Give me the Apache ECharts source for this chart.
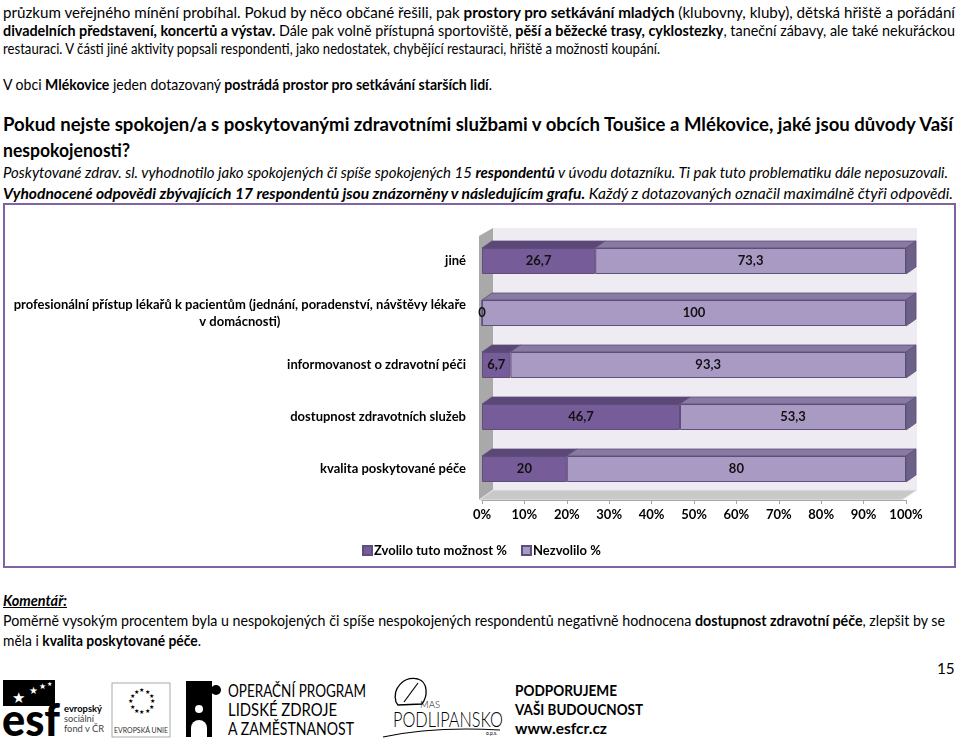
<!DOCTYPE html>
<html>
<head>
<meta charset="utf-8">
<script src="https://cdn.jsdelivr.net/npm/echarts@6/dist/echarts.min.js"></script>
<style>
  body { margin: 0; width: 960px; height: 738px; position: relative; background: #fff; overflow: hidden;
         font-family: Lato, "Noto Sans", sans-serif; color: #000; }
  .t { position: absolute; left: 3px; white-space: nowrap; font-size: 15.3px; line-height: 18px; height: 18px;
       transform-origin: 0 0; }
  .h { font-size: 18px; font-weight: bold; line-height: 22px; height: 22px; }
  .i { font-style: italic; }
  #box { position: absolute; left: 3px; top: 203px; width: 949px; height: 361px; border: 2px solid #8064A2; }
  #chart { width: 949px; height: 361px; }
  #logos { position: absolute; left: 0; top: 672px; }
</style>
</head>
<body>
<div class="t" data-w="952" style="top:3px">průzkum veřejného mínění probíhal. Pokud by něco občané řešili, pak <b>prostory pro setkávání mladých</b> (klubovny, kluby), dětská hřiště a pořádání</div>
<div class="t" data-w="952" style="top:21px"><b>divadelních představení, koncertů a výstav.</b> Dále pak volně přístupná sportoviště, <b>pěší a běžecké trasy, cyklostezky</b>, taneční zábavy, ale také nekuřáckou</div>
<div class="t" data-w="657" style="top:39px">restauraci. V části jiné aktivity popsali respondenti, jako nedostatek, chybějící restauraci, hřiště a možnosti koupání.</div>
<div class="t" data-w="489" style="top:75px">V obci <b>Mlékovice</b> jeden dotazovaný <b>postrádá prostor pro setkávání starších lidí</b>.</div>
<div class="t h" data-w="950" style="top:113px">Pokud nejste spokojen/a s poskytovanými zdravotními službami v obcích Toušice a Mlékovice, jaké jsou důvody Vaší</div>
<div class="t h" data-w="127" style="top:139px">nespokojenosti?</div>
<div class="t i" data-w="945" style="top:163px">Poskytované zdrav. sl. vyhodnotilo jako spokojených či spíše spokojených 15 <b>respondentů</b> v úvodu dotazníku. Ti pak tuto problematiku dále neposuzovali.</div>
<div class="t i" data-w="950" style="top:184px"><b>Vyhodnocené odpovědi zbývajících 17 respondentů jsou znázorněny v následujícím grafu.</b> Každý z dotazovaných označil maximálně čtyři odpovědi.</div>

<div id="box"><div id="chart"></div></div>

<div class="t i" data-w="64" style="top:591px"><b><u>Komentář:</u></b></div>
<div class="t" data-w="942" style="top:611px">Poměrně vysokým procentem byla u nespokojených či spíše nespokojených respondentů negativně hodnocena <b>dostupnost zdravotní péče</b>, zlepšit by se</div>
<div class="t" data-w="198" style="top:631px">měla i <b>kvalita poskytované péče</b>.</div>
<div class="t" style="top:659px;left:937px">15</div>

<svg id="logos" width="700" height="66" xmlns="http://www.w3.org/2000/svg" font-family="Lato, sans-serif">
  <!-- esf -->
  <rect x="3" y="8" width="52" height="26" fill="#000"/>
  <text x="12" y="31" fill="#fff" font-size="15">★</text>
  <text x="29" y="22" fill="#fff" font-size="10">★</text>
  <text x="39" y="17" fill="#fff" font-size="8">★</text>
  <text x="47" y="14" fill="#fff" font-size="6">★</text>
  <text x="2" y="64" font-size="46" font-weight="900" textLength="58" lengthAdjust="spacingAndGlyphs">esf</text>
  <text x="64" y="40" font-size="9" font-weight="bold" textLength="38" lengthAdjust="spacingAndGlyphs">evropský</text>
  <text x="64" y="50" font-size="9" fill="#444" textLength="30" lengthAdjust="spacingAndGlyphs">sociální</text>
  <text x="64" y="60" font-size="9" fill="#444" textLength="40" lengthAdjust="spacingAndGlyphs">fond v ČR</text>
  <!-- EU -->
  <rect x="112" y="11" width="58" height="54" fill="none" stroke="#aaa"/>
  <g id="euStars" fill="#000" font-size="6"></g>
  <text x="114" y="61" font-size="8" fill="#333" textLength="54" lengthAdjust="spacingAndGlyphs">EVROPSKÁ UNIE</text>
  <!-- puzzle -->
  <rect x="186" y="9" width="26" height="56" fill="#000"/>
  <circle cx="216" cy="18" r="5" fill="#000"/>
  <rect x="210" y="15" width="4" height="6" fill="#000"/>
  <circle cx="199" cy="56" r="8" fill="#fff"/>
  <rect x="191" y="56" width="16" height="10" fill="#fff"/>
  <circle cx="199" cy="37" r="4" fill="#fff"/>
  <text x="228" y="25" font-size="16.5" textLength="138" lengthAdjust="spacingAndGlyphs">OPERAČNÍ PROGRAM</text>
  <text x="228" y="44" font-size="16.5" textLength="109" lengthAdjust="spacingAndGlyphs">LIDSKÉ ZDROJE</text>
  <text x="228" y="63" font-size="16.5" textLength="126" lengthAdjust="spacingAndGlyphs">A ZAMĚSTNANOST</text>
  <!-- MAS -->
  <path d="M396 30 C392 16 404 4 418 7 C428 10 428 24 422 32 L398 33 Z" fill="none" stroke="#000" stroke-width="1.3"/>
  <path d="M404 30 L418 11" stroke="#000" stroke-width="1.2"/>
  <text x="420" y="36" font-size="10" font-weight="300" textLength="20" lengthAdjust="spacingAndGlyphs">MAS</text>
  <text x="393" y="55" font-size="21" font-weight="300" textLength="110" lengthAdjust="spacingAndGlyphs">PODLIPANSKO</text>
  <path d="M383 65 C420 57 465 56 500 58" fill="none" stroke="#000" stroke-width="1.2"/>
  <text x="486" y="63" font-size="5">o.p.s.</text>
  <text x="515" y="24" font-size="15.5" font-weight="bold" textLength="102" lengthAdjust="spacingAndGlyphs">PODPORUJEME</text>
  <text x="515" y="43" font-size="15.5" font-weight="bold" textLength="128" lengthAdjust="spacingAndGlyphs">VAŠI BUDOUCNOST</text>
  <text x="515" y="62" font-size="15.5" font-weight="bold" textLength="92" lengthAdjust="spacingAndGlyphs">www.esfcr.cz</text>
</svg>

<script>
// squeeze each text line to the width it has in the source document
document.querySelectorAll('.t[data-w]').forEach(function (el) {
  var w = el.getBoundingClientRect().width;
  el.style.transform = 'scaleX(' + (+el.dataset.w / w) + ')';
});

// EU flag ring of stars (decoration)
(function () {
  var g = document.getElementById('euStars');
  for (var k = 0; k < 12; k++) {
    var a = k * Math.PI / 6;
    var t = document.createElementNS('http://www.w3.org/2000/svg', 'text');
    t.setAttribute('x', (141 + 11 * Math.cos(a) - 2).toFixed(1));
    t.setAttribute('y', (29 + 11 * Math.sin(a) + 2).toFixed(1));
    t.textContent = '★';
    g.appendChild(t);
  }
})();

// data
const categories = [
  'jiné',
  'profesionální přístup lékařů k pacientům (jednání, poradenství, návštěvy lékaře\nv domácnosti)',
  'informovanost o zdravotní péči',
  'dostupnost zdravotních služeb',
  'kvalita poskytované péče'
];
const zvolilo = [26.7, 0, 6.7, 46.7, 20];
const nezvolilo = [73.3, 100, 93.3, 53.3, 80];
const seriesNames = ['Zvolilo tuto možnost %', 'Nezvolilo %'];

// colours of the 3D bars
const frontColors = ['#765C98', '#A99AC4'];
const topColors = ['#5C4779', '#887AA3'];
const sideColor = '#6C6187';
const edgeColor = '#5E4E7A';
const DX = 10, DY = 7;

const faceData = [];
categories.forEach(function (c, i) {
  faceData.push([i, 0, zvolilo[i], 0]);
  faceData.push([i, zvolilo[i], zvolilo[i] + nezvolilo[i], 1]);
});

function fmt(v) { return String(v).replace('.', ','); }

function renderWalls(params, api) {
  const cs = params.coordSys;
  const x = cs.x, y = cs.y, w = cs.width, h = cs.height;
  const bx = 14, by = 7;
  return {
    type: 'group',
    children: [
      { type: 'rect', shape: { x: x + bx - 3, y: y - by, width: w - bx + 14, height: h + 2 }, style: { fill: '#EEEBF3' } },
      { type: 'polygon', shape: { points: [[x - 3, y + 1], [x + bx - 3, y - by], [x + bx - 3, y + h - 5], [x - 3, y + h + 5]] },
        style: { fill: '#A9A9A9' } },
      { type: 'polygon', shape: { points: [[x - 3, y + h + 5], [x + bx - 3, y + h - 5], [x + w + 11, y + h - 5], [x + w - 4, y + h + 5]] },
        style: { fill: '#C9C9C9', stroke: '#E6E6E6', lineWidth: 1 } }
    ]
  };
}

function renderFaces(params, api) {
  const cat = api.value(0), a = api.value(1), b = api.value(2), s = api.value(3);
  const p0 = api.coord([a, cat]);
  const p1 = api.coord([b, cat]);
  const h = api.size([0, 1])[1] * 0.5;
  const yTop = p0[1] - h / 2;
  const children = [];
  if (b > a) {
    children.push({
      type: 'polygon',
      shape: { points: [[p0[0], yTop], [p1[0], yTop], [p1[0] + DX, yTop - DY], [p0[0] + DX, yTop - DY]] },
      style: { fill: topColors[s], stroke: edgeColor, lineWidth: 0.8 }
    });
  }
  if (s === 1) {
    children.push({
      type: 'polygon',
      shape: { points: [[p1[0], yTop], [p1[0] + DX, yTop - DY], [p1[0] + DX, yTop + h - DY], [p1[0], yTop + h]] },
      style: { fill: sideColor, stroke: edgeColor, lineWidth: 0.8 }
    });
  }
  return { type: 'group', children: children };
}

const chart = echarts.init(document.getElementById('chart'));
chart.setOption({
  animation: false,
  textStyle: { fontFamily: 'Lato, sans-serif' },
  grid: { left: 477, right: 48, top: 30, bottom: 71, outerBoundsMode: 'none', containLabel: false },
  legend: {
    data: seriesNames,
    left: 352, top: 334,
    icon: 'rect', itemWidth: 9, itemHeight: 9, itemGap: 14,
    textStyle: { fontSize: 13, fontWeight: 'bold', color: '#000', padding: [0, 0, 0, -3] }
  },
  xAxis: {
    type: 'value', min: 0, max: 100, interval: 10,
    offset: 5,
    axisLine: { show: true, lineStyle: { color: '#A6A6A6' } },
    axisTick: { show: true, length: 4, lineStyle: { color: '#A6A6A6' } },
    splitLine: { show: false },
    axisLabel: { formatter: '{value}%', fontSize: 13, fontWeight: 'bold', color: '#000', margin: 8 }
  },
  yAxis: {
    type: 'category', data: categories, inverse: true,
    axisLine: { show: false }, axisTick: { show: false },
    axisLabel: {
      fontSize: 13, fontWeight: 'bold', color: '#000', margin: 16, lineHeight: 17,
      formatter: function (v) {
        return v.split('\n').map(function (l) { return '{c|' + l + '}'; }).join('\n');
      },
      rich: { c: { align: 'center', fontSize: 13, fontWeight: 'bold', color: '#000', lineHeight: 17 } }
    }
  },
  series: [
    {
      type: 'custom', renderItem: renderWalls, data: [[0, 0]], z: 0, silent: true,
      encode: { x: 0, y: 1 }
    },
    {
      name: seriesNames[0], type: 'bar', stack: 'a', barWidth: '50%', z: 2,
      data: zvolilo,
      itemStyle: { color: frontColors[0], borderColor: edgeColor, borderWidth: 1 },
      label: { show: true, position: 'inside', fontSize: 13, fontWeight: 'bold', color: '#111',
               formatter: function (p) { return fmt(p.value); } }
    },
    {
      name: seriesNames[1], type: 'bar', stack: 'a', barWidth: '50%', z: 2,
      data: nezvolilo,
      itemStyle: { color: frontColors[1], borderColor: edgeColor, borderWidth: 1 },
      label: { show: true, position: 'inside', fontSize: 13, fontWeight: 'bold', color: '#111',
               formatter: function (p) { return fmt(p.value); } }
    },
    {
      type: 'custom', renderItem: renderFaces, data: faceData, z: 3, silent: true,
      encode: { x: [1, 2], y: 0 }
    }
  ]
});
</script>
</body>
</html>
